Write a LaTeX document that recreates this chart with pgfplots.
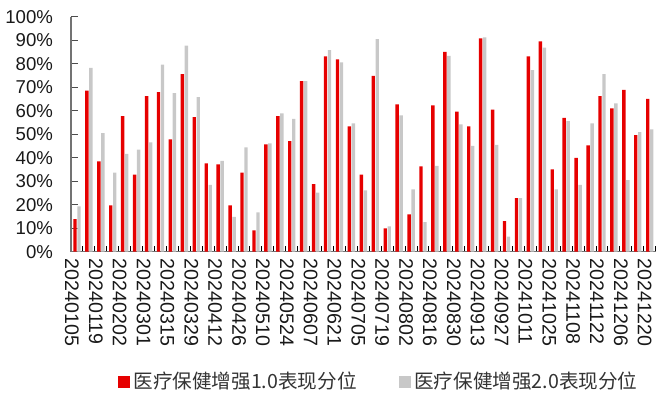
\documentclass[border=0pt]{standalone}
\usepackage{fontspec}
\setmainfont{Liberation Sans}
\newfontfamily\cjk{Noto Sans CJK SC}
\usepackage{pgfplots}
\usepackage{pgfplotstable}
\pgfplotsset{compat=1.18}
\definecolor{barred}{RGB}{230,0,0}
\definecolor{bargray}{RGB}{200,200,200}
\pgfplotstableread{
x red gray
0 13.9 19.3
1 68.5 78.2
2 38.4 50.5
3 19.7 33.6
4 57.7 41.6
5 32.8 43.4
6 66.2 46.5
7 67.9 79.6
8 47.8 67.5
9 75.6 87.7
10 57.3 65.8
11 37.6 28.4
12 37.2 38.6
13 19.7 14.8
14 33.6 44.4
15 9.1 16.7
16 45.7 46.1
17 57.7 58.9
18 47.0 56.5
19 72.6 72.6
20 28.8 25.1
21 83.1 85.8
22 81.8 80.6
23 53.3 54.6
24 32.8 26.1
25 74.8 90.4
26 9.9 10.8
27 62.7 58.0
28 15.9 26.5
29 36.3 12.6
30 62.3 36.5
31 85.0 83.3
32 59.6 54.2
33 53.3 45.0
34 90.8 91.2
35 60.4 45.4
36 13.0 6.4
37 22.8 22.8
38 83.1 77.3
39 89.5 86.8
40 35.0 26.5
41 56.9 55.6
42 39.9 28.4
43 45.2 54.6
44 66.2 75.6
45 61.0 63.1
46 68.9 30.5
47 49.6 50.9
48 65.0 52.1
}\datatable
\begin{document}
\begin{tikzpicture}
\useasboundingbox (-35.5pt,-73.65pt) rectangle (297.5pt,125.85pt);
\begin{axis}[
  at={(0,0)}, anchor=south west,
  scale only axis, width=292.35pt, height=117.5pt,
  xmin=-0.5, xmax=48.5, ymin=0, ymax=100,
  axis x line*=bottom, axis y line*=left,
  axis line style={black!55, line width=0.6pt},
  tick align=inside,
  major tick length=3.5pt, minor tick length=3pt,
  xtick={0,2,...,48},
  xticklabels={20240105,20240119,20240202,20240301,20240315,20240329,20240412,20240426,20240510,20240524,20240607,20240621,20240705,20240719,20240802,20240816,20240830,20240913,20240927,20241011,20241025,20241108,20241122,20241206,20241220},
  every major x tick/.append style={draw=none},
  minor xtick={-0.5,0.5,...,48.5},
  every minor x tick/.append style={black, line width=0.5pt},
  xticklabel style={rotate=-90, anchor=west, yshift=-2.5pt, font=\fontsize{9.8}{10}\selectfont, text=black!90},
  ytick={0,10,...,100},
  yticklabel={\pgfmathprintnumber{\tick}\%},
  yticklabel style={xshift=-5.5pt, font=\fontsize{9.3}{10}\selectfont, text=black!90},
  every major y tick/.append style={black!70, line width=0.5pt},
  /pgf/number format/assume math mode=true,
  legend style={at={(0.528,-0.553)}, anchor=center, draw=none, fill=none,
    font=\cjk\fontsize{9.8}{11}\selectfont, text=black!80,
    /tikz/every even column/.append style={column sep=19pt}},
  legend columns=2,
]
\addplot[ybar, bar width=1.7pt, bar shift=-1pt, fill=barred, draw=none, forget plot] table[x=x, y=red] {\datatable};
\addplot[ybar, bar width=1.7pt, bar shift=1pt, fill=bargray, draw=none, forget plot] table[x=x, y=gray] {\datatable};
\addlegendimage{legend image code/.code={\fill[barred] (0pt,-2.7pt) rectangle (5.4pt,2.7pt);}}
\addlegendentry{医疗保健增强1.0表现分位}
\addlegendimage{legend image code/.code={\fill[bargray] (0pt,-2.7pt) rectangle (5.4pt,2.7pt);}}
\addlegendentry{医疗保健增强2.0表现分位}
\end{axis}
\end{tikzpicture}
\end{document}
